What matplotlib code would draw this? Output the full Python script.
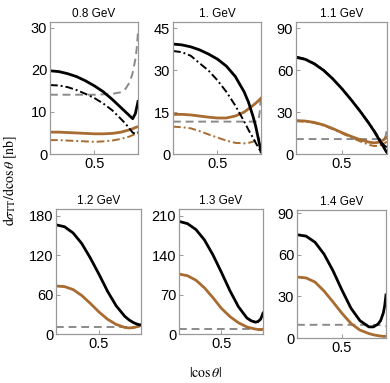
import matplotlib
matplotlib.use('Agg')
import matplotlib.pyplot as plt

plt.rcParams['font.family'] = ['Liberation Sans', 'DejaVu Sans']
plt.rcParams['mathtext.fontset'] = 'stix'

# common |cos(theta)| grid
x_grid = [0, 0.1, 0.2, 0.3, 0.4, 0.5, 0.6, 0.7, 0.8, 0.85, 0.9, 0.93, 0.96, 0.975, 0.99]

titles = ['0.8 GeV', '1. GeV', '1.1 GeV', '1.2 GeV', '1.3 GeV', '1.4 GeV']
y_ticks = [[0, 10, 20, 30], [0, 15, 30, 45], [0, 30, 60, 90],
           [0, 60, 120, 180], [0, 70, 140, 210], [0, 30, 60, 90]]
y_max = [31.4, 47.3, 94.5, 190, 222, 92.2]

# 0.8 GeV
black_08 = [19.8, 19.6, 19.1, 18.4, 17.4, 16.2, 14.8, 13.0, 11.0, 10.0, 9.0, 8.4, 9.6, 11.0, 12.5]
blackdd_08 = [16.4, 16.3, 15.9, 15.2, 14.3, 13.3, 12.0, 10.4, 8.3, 7.2, 5.9, 5.1, 4.8, 4.9, 5.2]
gray_08 = [14.1, 14.1, 14.1, 14.1, 14.1, 14.1, 14.2, 14.3, 14.7, 15.5, 17.2, 19.3, 22.5, 25.0, 29.0]
brown_08 = [5.2, 5.2, 5.1, 5.0, 4.9, 4.8, 4.8, 4.9, 5.2, 5.5, 5.8, 6.0, 6.3, 6.4, 6.5]
browndd_08 = [3.3, 3.3, 3.2, 3.1, 3.0, 2.9, 3.0, 3.2, 3.6, 3.9, 4.2, 4.5, 4.7, 4.8, 4.9]

# 1.0 GeV
black_10 = [39.4, 39.1, 38.4, 37.3, 35.8, 34.0, 31.5, 27.8, 22.3, 18.5, 13.5, 10.0, 5.5, 3.2, 0.8]
blackdd_10 = [36.9, 36.5, 35.2, 32.5, 29.9, 26.4, 22.3, 17.4, 11.7, 8.6, 5.8, 4.0, 2.4, 1.5, 0.8]
gray_10 = [11.6, 11.6, 11.6, 11.6, 11.6, 11.6, 11.6, 11.6, 11.6, 11.6, 11.6, 11.6, 11.8, 15.0, 21.0]
brown_10 = [14.2, 14.2, 14.0, 13.6, 13.2, 12.9, 12.9, 13.6, 15.0, 16.2, 17.4, 18.2, 19.0, 19.5, 20.0]
browndd_10 = [9.8, 9.6, 9.2, 8.2, 7.0, 5.9, 4.8, 4.0, 3.8, 4.0, 4.4, 4.9, 5.5, 5.8, 6.2]

# 1.1 GeV
black_11 = [69.2, 67.8, 64.5, 59.9, 53.8, 46.7, 38.8, 30.4, 21.3, 16.3, 10.8, 7.5, 4.2, 2.5, 1.0]
blackdd_11 = [69.6, 68.2, 64.8, 60.1, 53.9, 46.8, 38.9, 30.5, 21.6, 16.8, 11.6, 8.6, 6.2, 5.4, 5.0]
gray_11 = [10.7, 10.7, 10.7, 10.7, 10.7, 10.7, 10.7, 10.7, 10.7, 10.7, 10.7, 10.7, 10.8, 13.0, 18.0]
brown_11 = [23.9, 23.6, 22.6, 20.8, 18.2, 15.3, 12.6, 10.2, 8.4, 8.0, 8.4, 9.3, 10.5, 11.2, 11.9]
browndd_11 = [23.5, 23.2, 22.2, 20.4, 17.8, 14.8, 11.8, 9.0, 6.5, 5.7, 5.9, 6.6, 7.6, 8.2, 8.8]

# 1.2 GeV
black_12 = [166, 163, 153.5, 137.5, 115.5, 91, 65, 43, 27, 21.5, 17.5, 15.7, 14.5, 13.9, 13.5]
gray_12 = [10.2] * 15
brown_12 = [73, 72, 67.5, 58.5, 46.5, 33.5, 22.5, 14.6, 10.0, 9.2, 9.6, 10.6, 12.3, 13.2, 14.0]

# 1.3 GeV
black_13 = [200, 196, 185.5, 167, 140.5, 109.5, 77, 48.5, 28.5, 23.5, 21, 22, 26, 31, 37]
gray_13 = [8.8] * 15
brown_13 = [106.5, 103.5, 95.5, 82, 64.5, 45.5, 31, 20, 12.5, 10.5, 8.8, 8.0, 7.6, 7.8, 8.5]

# 1.4 GeV
black_14 = [74.4, 73.4, 69, 60.5, 48.5, 34.5, 21.5, 12.5, 8.0, 8.0, 10.0, 12.5, 18, 23, 31]
gray_14 = [9.5, 9.5, 9.5, 9.5, 9.5, 9.5, 9.5, 9.5, 9.5, 9.4, 9.3, 9.2, 9.0, 8.8, 8.5]
brown_14 = [43.9, 43.3, 40.3, 33.9, 26.0, 17.8, 10.5, 5.7, 3.2, 2.3, 1.7, 1.4, 1.2, 1.2, 1.2]

panels = [
    (black_08, blackdd_08, gray_08, brown_08, browndd_08),
    (black_10, blackdd_10, gray_10, brown_10, browndd_10),
    (black_11, blackdd_11, gray_11, brown_11, browndd_11),
    (black_12, None, gray_12, brown_12, None),
    (black_13, None, gray_13, brown_13, None),
    (black_14, None, gray_14, brown_14, None),
]

# panel boxes in pixels: left, right, top, bottom
boxes = [(50, 138, 22, 154), (173, 261, 22, 154), (296, 387, 22, 154),
         (56, 141, 209, 334), (179, 263, 209, 334), (297, 386, 210, 338)]

W, H = 390, 383
BROWN = '#a86b30'
GRAY = '#8a8a8a'
FRAME = '#999999'

fig = plt.figure(figsize=(W / 100, H / 100), dpi=100)

for i, (black, blackdd, gray, brown, browndd) in enumerate(panels):
    l, r, t, b = boxes[i]
    ax = fig.add_axes([l / W, 1 - b / H, (r - l) / W, (b - t) / H])
    ax.plot(x_grid, gray, color=GRAY, lw=1.4, ls=(0, (4, 2.5)))
    if browndd is not None:
        ax.plot(x_grid, browndd, color=BROWN, lw=1.4, ls=(0, (4, 1.5, 1, 1.5)))
    ax.plot(x_grid, brown, color=BROWN, lw=2.0)
    if blackdd is not None:
        ax.plot(x_grid, blackdd, color='black', lw=1.4, ls=(0, (4, 1.5, 1, 1.5)))
    ax.plot(x_grid, black, color='black', lw=2.0)
    ax.set_xlim(0, 0.99)
    ax.set_ylim(0, y_max[i])
    ax.set_xticks([0.5])
    ax.set_xticklabels(['0.5'])
    ax.set_yticks(y_ticks[i])
    ax.set_yticklabels([str(v) for v in y_ticks[i]])
    ax.tick_params(direction='in', length=3, width=0.7, color=FRAME,
                   labelsize=10.5, pad=2)
    for s in ax.spines.values():
        s.set_color(FRAME)
        s.set_linewidth(0.9)
    ax.set_title(titles[i], fontsize=8.5, pad=3.5)

fig.text(10 / W, 1 - 180 / H,
         r'$\mathrm{d}\sigma_{\mathrm{TT}}/\mathrm{d}\cos\theta\ [\mathrm{nb}]$',
         rotation=90, ha='center', va='center', fontsize=10)
fig.text(206 / W, 1 - 373 / H, r'$|\cos\theta|$',
         ha='center', va='center', fontsize=10)

fig.savefig('out.png', dpi=100)
